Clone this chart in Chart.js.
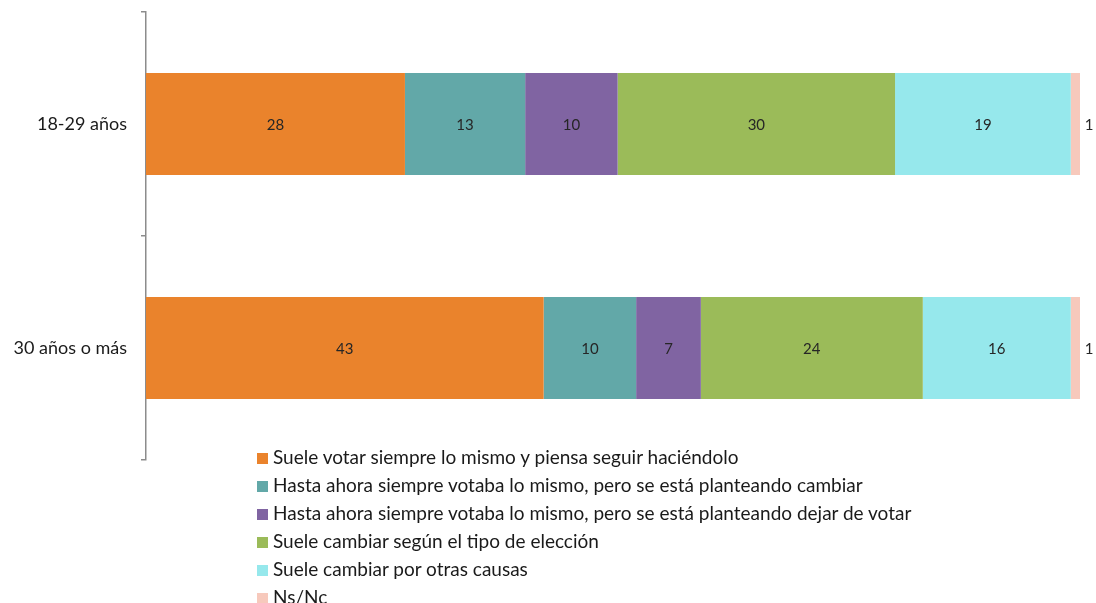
<!DOCTYPE html>
<html lang="es">
<head>
<meta charset="utf-8">
<title>Comportamiento de voto por edad</title>
<script src="https://cdn.jsdelivr.net/npm/chart.js@4/dist/chart.umd.min.js"></script>
<style>
  html, body { margin: 0; padding: 0; background: #fff; }
  #wrap { position: relative; width: 1096px; height: 603px; }
  #legend {
    position: absolute; left: 257px; top: 443px;
    font-family: Lato, sans-serif; font-size: 19px; color: #1a1a1a;
  }
  #legend div { height: 28px; line-height: 28px; white-space: nowrap; }
  #legend span.box {
    display: inline-block; width: 11px; height: 11px; margin-right: 5px;
    vertical-align: 0px;
  }
</style>
</head>
<body>
<div id="wrap">
  <canvas id="mainChart" width="1096" height="603"></canvas>
  <div id="legend"></div>
</div>
<script>
const categories = ["18-29 años", "30 años o más"];
const seriesNames = [
  "Suele votar siempre lo mismo y piensa seguir haciéndolo",
  "Hasta ahora siempre votaba lo mismo, pero se está planteando cambiar",
  "Hasta ahora siempre votaba lo mismo, pero se está planteando dejar de votar",
  "Suele cambiar según el tipo de elección",
  "Suele cambiar por otras causas",
  "Ns/Nc"
];
const mismo = [28, 43];
const cambiar = [13, 10];
const dejar = [10, 7];
const tipoEleccion = [30, 24];
const otrasCausas = [19, 16];
const nsnc = [1, 1];
const colors = ["#EA832C", "#62A8A8", "#8064A2", "#9BBB59", "#96E8EC", "#F7C9BC"];

const seriesValues = [mismo, cambiar, dejar, tipoEleccion, otrasCausas, nsnc];

// numbers on each segment; thin segments get theirs just past the bar end
const valueLabels = {
  id: "valueLabels",
  afterDatasetsDraw(chart) {
    const ctx = chart.ctx;
    ctx.save();
    ctx.font = "15px Lato, sans-serif";
    ctx.fillStyle = "#262626";
    ctx.textAlign = "center";
    ctx.textBaseline = "middle";
    chart.data.datasets.forEach((ds, i) => {
      chart.getDatasetMeta(i).data.forEach((bar, j) => {
        const w = Math.abs(bar.x - bar.base);
        const x = w < 20 ? bar.x + 9 : (bar.x + bar.base) / 2;
        ctx.fillText(ds.data[j], x, bar.y + 1);
      });
    });
    ctx.restore();
  }
};

const chart = new Chart(document.getElementById("mainChart"), {
  type: "bar",
  data: {
    labels: categories,
    datasets: seriesNames.map((name, i) => ({
      label: name,
      data: seriesValues[i],
      backgroundColor: colors[i],
      borderWidth: 0,
      barPercentage: 0.455,
      categoryPercentage: 1
    }))
  },
  options: {
    indexAxis: "y",
    responsive: false,
    animation: false,
    layout: { padding: { top: 12, right: 16, bottom: 143, left: 0 } },
    plugins: { legend: { display: false }, tooltip: { enabled: false } },
    scales: {
      x: { stacked: true, min: 0, max: 101, display: false },
      y: {
        stacked: true,
        afterFit: s => { s.width = 146; s.paddingTop = 0; s.paddingBottom = 0; },
        border: { display: true, color: "#8c8c8c", width: 1.5 },
        grid: { drawOnChartArea: false, offset: true, tickLength: 5, color: "#8c8c8c", lineWidth: 1.5 },
        ticks: { padding: 14, color: "#1a1a1a", font: { family: "Lato, sans-serif", size: 18 } }
      }
    }
  },
  plugins: [valueLabels]
});

const legendEl = document.getElementById("legend");
chart.data.datasets.forEach(ds => {
  const row = document.createElement("div");
  row.innerHTML = `<span class="box" style="background:${ds.backgroundColor}"></span>${ds.label}`;
  legendEl.appendChild(row);
});
</script>
</body>
</html>
